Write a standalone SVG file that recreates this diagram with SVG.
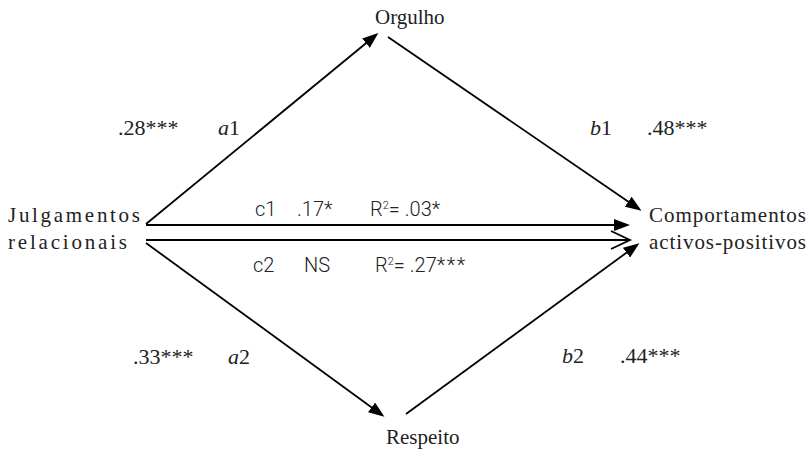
<svg xmlns="http://www.w3.org/2000/svg" width="809" height="457" viewBox="0 0 809 457">
<defs>
<style>
.serif{font-family:"Liberation Serif","Times New Roman",serif;font-size:21px;fill:#222;}
.num{font-size:22px;}
.sans{font-family:Roboto,"Liberation Sans",Arial,sans-serif;font-size:20px;font-weight:300;fill:#222;}
.it{font-style:italic;}
.ln{stroke:#000;stroke-width:1.8;fill:none;}
</style>
<marker id="ah" markerUnits="userSpaceOnUse" markerWidth="16" markerHeight="12" refX="13" refY="6" orient="auto">
<path d="M0,0 L16,6 L0,12 z" fill="#000"/>
</marker>
</defs>
<rect width="809" height="457" fill="#fff"/>
<g id="connectors">
<line class="ln" x1="146" y1="224" x2="376" y2="35" marker-end="url(#ah)"/>
<line class="ln" x1="388" y1="37" x2="639" y2="209" marker-end="url(#ah)"/>
<line class="ln" x1="146" y1="225" x2="627" y2="225" stroke-width="2" marker-end="url(#ah)"/>
<line class="ln" x1="146" y1="240" x2="628" y2="240" stroke-width="3"/>
<polyline class="ln" points="611,231 630,240 611,249" stroke-width="2.5"/>
<line class="ln" x1="146" y1="243" x2="382" y2="415" marker-end="url(#ah)"/>
<line class="ln" x1="406" y1="414" x2="637" y2="245" marker-end="url(#ah)"/>
</g>
<g id="node-orgulho"><text class="serif" x="375" y="24">Orgulho</text></g>
<g id="node-julgamentos">
<text class="serif" x="8" y="222" textLength="132" lengthAdjust="spacing">Julgamentos</text>
<text class="serif" x="8" y="249" textLength="119" lengthAdjust="spacing">relacionais</text>
</g>
<g id="node-comportamentos">
<text class="serif" x="649" y="222" textLength="157" lengthAdjust="spacing">Comportamentos</text>
<text class="serif" x="649" y="249" textLength="157" lengthAdjust="spacing">activos-positivos</text>
</g>
<g id="node-respeito"><text class="serif" x="386" y="444">Respeito</text></g>
<g id="labels">
<text class="serif num" x="118" y="135">.28***</text>
<text class="serif num" x="218" y="135"><tspan class="it">a</tspan>1</text>
<text class="serif num" x="590" y="135"><tspan class="it">b</tspan>1</text>
<text class="serif num" x="647" y="135">.48***</text>
<text class="serif num" x="133" y="364">.33***</text>
<text class="serif num" x="228" y="364"><tspan class="it">a</tspan>2</text>
<text class="serif num" x="562" y="363"><tspan class="it">b</tspan>2</text>
<text class="serif num" x="620" y="363">.44***</text>
<text class="sans" x="255" y="216">c1</text>
<text class="sans" x="297" y="216">.17*</text>
<text class="sans" x="370" y="216">R<tspan font-size="11" dy="-7">2</tspan><tspan dy="7">= .03*</tspan></text>
<text class="sans" x="253" y="272">c2</text>
<text class="sans" x="304" y="272">NS</text>
<text class="sans" x="375" y="272">R<tspan font-size="11" dy="-7">2</tspan><tspan dy="7">= .27</tspan><tspan letter-spacing="1.5">***</tspan></text>
</g>
</svg>
